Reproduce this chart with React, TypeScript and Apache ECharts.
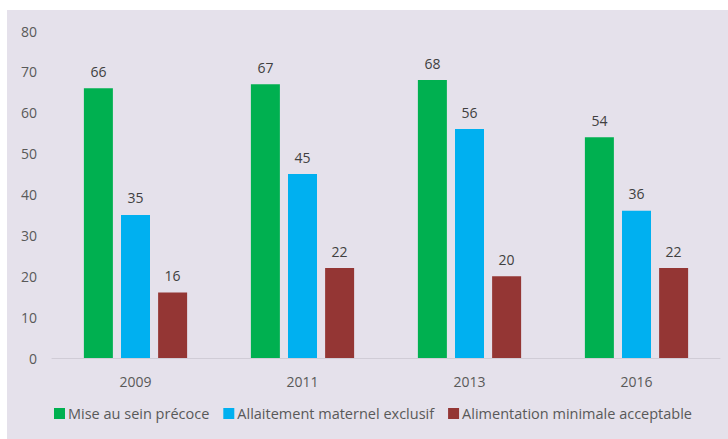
import React, { useEffect, useRef } from "react";
import * as echarts from "echarts";

const categories = ["2009", "2011", "2013", "2016"];
const seriesNames = ["Mise au sein précoce", "Allaitement maternel exclusif", "Alimentation minimale acceptable"];
const miseAuSein = [66, 67, 68, 54];
const allaitement = [35, 45, 56, 36];
const alimentation = [16, 22, 20, 22];
const colors = ["#00b050", "#00b0f0", "#943634"];

export default function App() {
  const ref = useRef<HTMLDivElement>(null);
  useEffect(() => {
    const chart = echarts.init(ref.current!, null, { renderer: "svg" });
    const font = "'Open Sans', sans-serif";
    const mk = (name: string, data: number[], color: string) => ({
      name,
      type: "bar",
      data,
      barWidth: 29,
      barGap: "28%",
      itemStyle: { color },
      label: { show: true, position: "top", distance: 10, color: "#404040", fontSize: 14, fontFamily: font },
    });
    chart.setOption({
      animation: false,
      backgroundColor: "#ffffff",
      graphic: [
        { type: "rect", z: -10, shape: { x: 7, y: 10, width: 721, height: 429 }, style: { fill: "#e5e1eb" } },
      ],
      grid: { left: 52, right: 8, top: 31, bottom: 81 },
      legend: {
        bottom: 13,
        left: 49,
        itemWidth: 11,
        itemHeight: 11,
        itemGap: 14,
        icon: "rect",
        textStyle: { color: "#595959", fontSize: 14.5, fontFamily: font, padding: [0, 0, 0, -2] },
        data: seriesNames,
      },
      xAxis: {
        type: "category",
        data: categories,
        axisLine: { lineStyle: { color: "#d0ccd6" } },
        axisTick: { show: false },
        axisLabel: { color: "#595959", fontSize: 14, margin: 16, fontFamily: font },
      },
      yAxis: {
        type: "value",
        min: 0,
        max: 80,
        interval: 10,
        splitLine: { show: false },
        axisLine: { show: false },
        axisLabel: { color: "#595959", fontSize: 14, margin: 15, fontFamily: font },
      },
      series: [
        mk(seriesNames[0], miseAuSein, colors[0]),
        mk(seriesNames[1], allaitement, colors[1]),
        mk(seriesNames[2], alimentation, colors[2]),
      ],
    });
    return () => chart.dispose();
  }, []);
  return <div ref={ref} style={{ position: "fixed", left: 0, top: 0, width: 728, height: 439 }} />;
}
